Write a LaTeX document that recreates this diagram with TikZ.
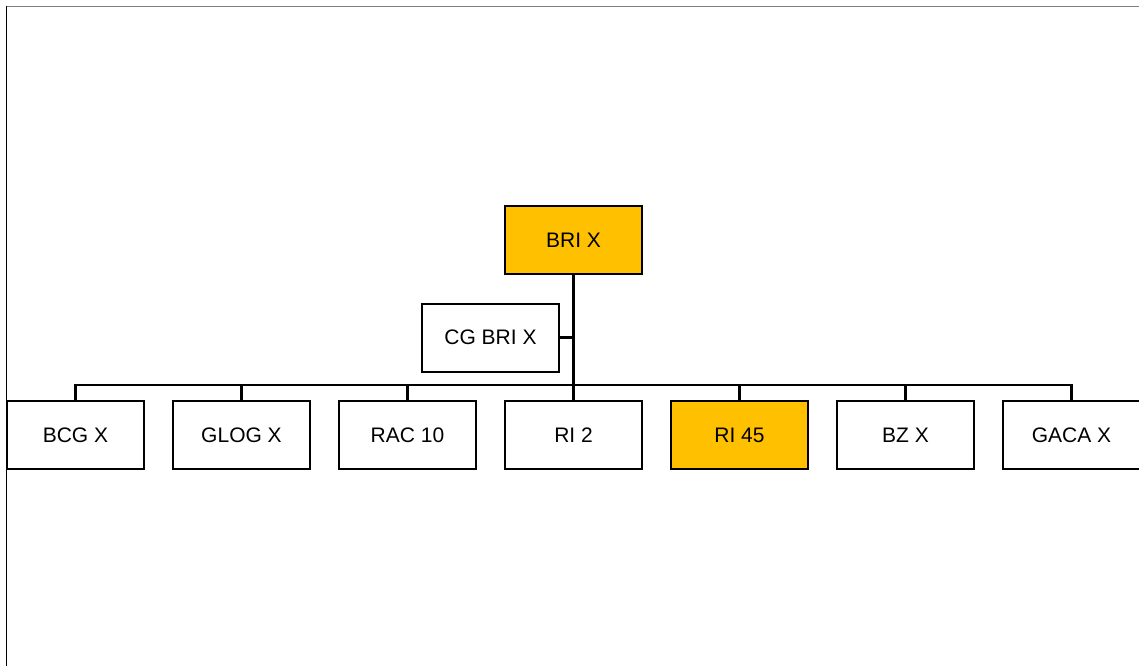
\documentclass[tikz,border=0pt]{standalone}
\usepackage{fontspec}
\setmainfont{Liberation Sans}
\usetikzlibrary{calc}

\definecolor{gold}{HTML}{FFC000}

\begin{document}
\begin{tikzpicture}[x=1pt,y=-1pt]

  \tikzstyle{unit}=[rectangle,draw=black,line width=2pt,fill=white,
    minimum height=68pt,minimum width=137pt,inner sep=0pt,font=\fontsize{21}{24}\selectfont]
  \tikzstyle{head}=[unit,fill=gold]
  \tikzstyle{link}=[line width=2.8pt]

  \useasboundingbox (0,0) rectangle (1139,666);

  %% frame of the slide
  \draw [line width=1.6pt,color=gray] (6.5,6.5) -- (1139,6.5);
  \draw [line width=1.6pt] (6.5,6.5) -- (6.5,666);

  \node  (bri)  at (573.5,240)   [head]  {BRI X};
  \node  (cg)   at (490.5,337.5) [unit]  {CG BRI X};

  \node  (bcg)  at (75.5,435)   [unit]  {BCG X};
  \node  (glog) at (241.5,435)  [unit]  {GLOG X};
  \node  (rac)  at (407.5,435)  [unit]  {RAC 10};
  \node  (ri2)  at (573.5,435)  [unit]  {RI 2};
  \node  (ri45) at (739.5,435)  [head]  {RI 45};
  \node  (bz)   at (905.5,435)  [unit]  {BZ X};
  \node  (gaca) at (1071.5,435) [unit]  {GACA X};

  \draw [link] (bri.south) -- (ri2.north);
  \draw [link] (cg.east) -- (cg.east -| bri.south);
  \draw [link] (bcg.north) -- ++(0,-15) -| (gaca.north);
  \foreach \n in {glog,rac,ri45,bz}
    \draw [link] (\n.north) -- ++(0,-15);
\end{tikzpicture}
\end{document}
